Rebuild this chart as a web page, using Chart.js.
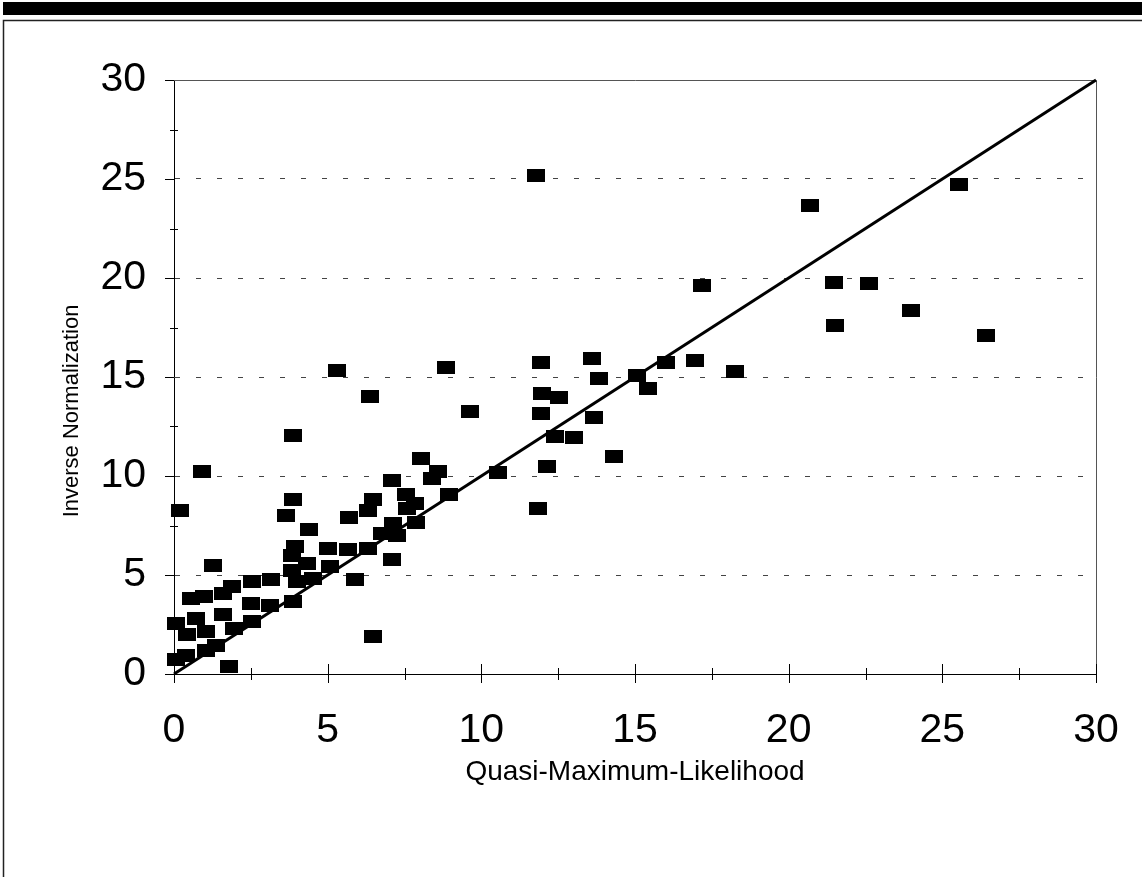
<!DOCTYPE html>
<html>
<head>
<meta charset="utf-8">
<script src="https://cdn.jsdelivr.net/npm/chart.js@4"></script>
<style>
  html, body { margin: 0; padding: 0; background: #fff; }
  #wrap { width: 1142px; height: 877px; }
</style>
</head>
<body>
<div id="wrap"><canvas id="qmlChart" width="1142" height="877"></canvas></div>
<script>
// Estimates: x = quasi-maximum-likelihood, y = inverse normalization
const qmlValues = [
  0.20, 0.91, 1.28, 0.55, 0.99, 1.58, 1.88, 2.53, 3.16, 2.50,
  3.12, 0.05, 0.70, 1.58, 0.43, 1.03, 1.95, 2.55, 1.03, 1.36,
  0.05, 0.39, 1.78, 3.86, 3.86, 3.64, 5.69, 6.49, 6.32, 4.40,
  3.94, 5.02, 5.67, 6.32, 6.76, 3.83, 3.83, 4.32, 5.08, 4.53,
  3.99, 5.89, 3.88, 5.30, 8.84, 6.38, 9.63, 8.03, 8.60, 8.39,
  7.08, 8.96, 7.55, 7.84, 7.57, 7.88, 7.14, 7.25, 7.08, 6.49,
  10.54, 11.77, 17.17, 11.94, 13.60, 13.84, 15.08, 16.02, 16.94, 18.26,
  15.41, 11.96, 12.52, 11.94, 13.67, 12.41, 13.02, 14.33, 12.15, 11.84,
  20.70, 25.53, 21.46, 22.60, 23.98, 21.50, 26.41
];
const invNormValues = [
  8.25, 10.22, 5.50, 3.82, 3.90, 4.07, 4.44, 4.66, 4.78, 3.57,
  3.48, 2.56, 2.81, 2.98, 1.97, 2.14, 2.30, 2.64, 1.21, 1.46,
  0.71, 0.91, 0.40, 12.03, 8.82, 8.03, 7.89, 8.79, 8.28, 7.32,
  6.46, 6.33, 6.28, 6.33, 7.10, 6.01, 5.25, 5.59, 5.42, 4.83,
  4.66, 4.75, 3.68, 15.35, 15.49, 14.04, 13.25, 10.89, 10.25, 9.88,
  9.76, 9.07, 9.09, 8.62, 8.37, 7.64, 7.61, 7.02, 5.76, 1.88,
  10.19, 25.20, 19.60, 15.72, 15.94, 14.93, 15.10, 15.74, 15.82, 15.29,
  14.41, 14.16, 13.97, 13.18, 12.93, 12.02, 11.95, 10.96, 10.50, 8.38,
  23.65, 24.70, 19.78, 19.73, 18.35, 17.61, 17.12
];
const axisRange = [0, 30];
const tickStep = 2.5;
const labelStep = 5;
const diagonal = [0, 30];

const fontFamily = "'Liberation Sans', Arial, sans-serif";

// filled rectangle used as marker
const marker = document.createElement('canvas');
marker.width = 18;
marker.height = 13;
const mctx = marker.getContext('2d');
mctx.fillStyle = '#000';
mctx.fillRect(0, 0, 18, 13);

const points = qmlValues.map((x, i) => ({ x: x, y: invNormValues[i] }));

// page frame, plot box, crossing tick marks and the rotated y title
const decorations = {
  id: 'decorations',
  beforeDraw(chart) {
    const c = chart.ctx;
    c.save();
    c.fillStyle = '#fff';
    c.fillRect(0, 0, chart.width, chart.height);
    c.fillStyle = '#000';
    c.fillRect(3, 2, chart.width - 3, 13);
    c.strokeStyle = '#222';
    c.lineWidth = 1.5;
    c.strokeRect(3.5, 20.5, chart.width + 10, chart.height + 10);
    c.restore();
  },
  beforeDatasetsDraw(chart) {
    const c = chart.ctx;
    const { left, right, top, bottom } = chart.chartArea;
    const xs = chart.scales.x, ys = chart.scales.y;
    c.save();
    c.strokeStyle = '#555';
    c.lineWidth = 1;
    c.beginPath();
    c.moveTo(left, top + 0.5);
    c.lineTo(right + 0.5, top + 0.5);
    c.lineTo(right + 0.5, bottom);
    c.stroke();
    c.strokeStyle = '#000';
    c.beginPath();
    for (let v = axisRange[0]; v <= axisRange[1]; v += tickStep) {
      const major = v % labelStep === 0;
      const px = Math.round(xs.getPixelForValue(v)) + 0.5;
      c.moveTo(px, bottom - (major ? 10 : 6));
      c.lineTo(px, bottom + (major ? 9 : 6));
      const py = Math.round(ys.getPixelForValue(v)) + 0.5;
      c.moveTo(left - (major ? 9 : 4), py);
      c.lineTo(left + (major ? 0 : 4), py);
    }
    c.stroke();
    c.restore();
  },
  afterDraw(chart) {
    const c = chart.ctx;
    c.save();
    c.translate(72, 411);
    c.rotate(-Math.PI / 2);
    c.fillStyle = '#000';
    c.font = '22px ' + fontFamily;
    c.textAlign = 'center';
    c.textBaseline = 'middle';
    c.fillText('Inverse Normalization', 0, 0);
    c.restore();
  }
};

const ctx = document.getElementById('qmlChart').getContext('2d');
new Chart(ctx, {
  type: 'scatter',
  data: {
    datasets: [
      {
        label: 'Estimates',
        data: points,
        pointStyle: marker,
        pointRadius: 9,
        clip: false,
        order: 2
      },
      {
        label: 'y = x',
        data: diagonal.map(v => ({ x: v, y: v })),
        showLine: true,
        borderColor: '#000',
        borderWidth: 3,
        pointRadius: 0,
        clip: false,
        order: 1
      }
    ]
  },
  options: {
    responsive: false,
    animation: false,
    layout: { padding: { top: 80, right: 46, left: 0, bottom: 0 } },
    plugins: {
      legend: { display: false },
      tooltip: { enabled: false }
    },
    scales: {
      x: {
        type: 'linear',
        min: axisRange[0],
        max: axisRange[1],
        afterFit: s => { s.height = 203; s.paddingLeft = 0; s.paddingRight = 0; },
        ticks: {
          stepSize: tickStep,
          autoSkip: false,
          maxRotation: 0,
          padding: 32,
          color: '#000',
          font: { family: fontFamily, size: 41 },
          callback: v => (v % labelStep === 0 ? v : '')
        },
        grid: { color: 'rgba(0,0,0,0)', drawTicks: false },
        border: { color: '#000', width: 1 },
        title: {
          display: true,
          text: 'Quasi-Maximum-Likelihood',
          color: '#000',
          font: { family: fontFamily, size: 28 },
          padding: { top: 0, bottom: 88 }
        }
      },
      y: {
        type: 'linear',
        min: axisRange[0],
        max: axisRange[1],
        afterFit: s => { s.width = 174; s.paddingTop = 0; s.paddingBottom = 0; },
        ticks: {
          stepSize: tickStep,
          autoSkip: false,
          padding: 28,
          color: '#000',
          font: { family: fontFamily, size: 41 },
          callback: v => (v % labelStep === 0 ? v : '')
        },
        grid: {
          drawTicks: false,
          lineWidth: 1,
          color: c => {
            const v = c.tick ? c.tick.value : 0;
            return (v % labelStep === 0 && v > axisRange[0] && v < axisRange[1]) ? '#444' : 'rgba(0,0,0,0)';
          }
        },
        border: { color: '#000', width: 1, dash: [5, 16] }
      }
    }
  },
  plugins: [decorations]
});
</script>
</body>
</html>
